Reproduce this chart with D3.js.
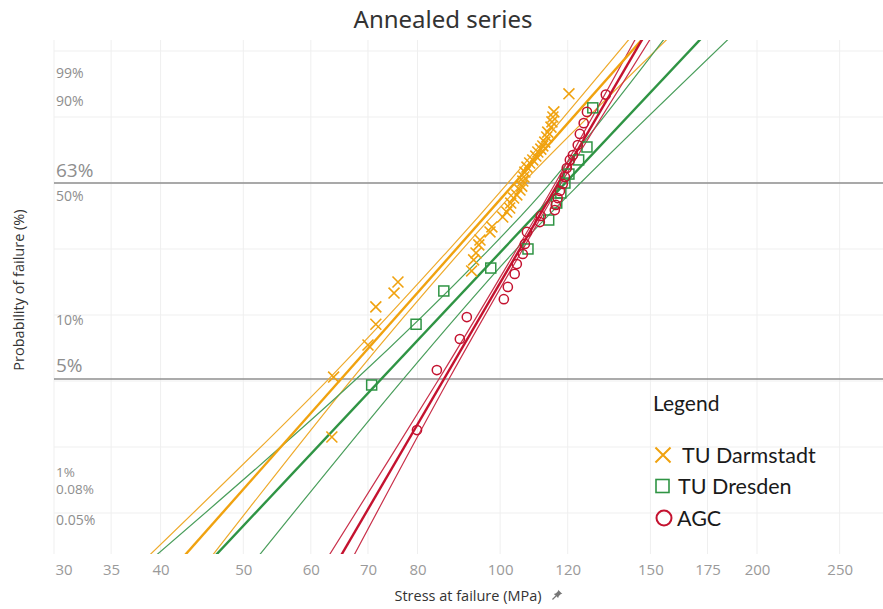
<!DOCTYPE html>
<html>
<head>
<meta charset="utf-8">
<script src="https://cdn.jsdelivr.net/npm/d3@7"></script>
<style>
  html, body { margin: 0; padding: 0; background: #fff; }
  svg { display: block; }
</style>
</head>
<body>
<svg id="chart" width="883" height="609"></svg>
<script>
// ---------------- data ----------------
const xTickValues = [30, 35, 40, 50, 60, 70, 80, 100, 120, 150, 175, 200, 250];

// annotation labels on the probability axis (text as in the original)
const probLabels = ["99%", "90%", "63%", "50%", "10%", "5%", "1%", "0.08%", "0.05%"];

// reference lines (failure probability, %)
const refLinesProb = [63.2, 5];

// TU Darmstadt (stress MPa, probability %)
const darmstadtStress = [63.5, 63.8, 70.0, 71.5, 71.5, 75.1, 75.9, 92.6, 93.1, 93.7, 94.4, 94.7, 97.3, 97.8,
  100.7, 101.8, 102.6, 102.9, 103.7, 104.6, 105.5, 106.0, 106.3, 106.6, 106.9, 107.5, 108.3, 109.2, 110.1,
  110.7, 111.6, 112.2, 112.8, 113.4, 113.7, 114.7, 115.0, 115.3, 115.6, 120.4];
const darmstadtProb = [2.11, 5.15, 8.23, 11.1, 14.2, 17.2, 20.0, 23.2, 26.8, 29.3, 32.4, 34.4, 37.9, 40.2,
  45.0, 47.5, 49.6, 52.2, 54.9, 56.6, 59.3, 61.5, 64.3, 66.6, 69.3, 72.0, 74.2, 75.8, 77.8,
  79.8, 81.2, 82.7, 84.4, 86.6, 88.5, 90.3, 92.0, 93.4, 94.7, 97.9];

// TU Dresden
const dresdenStress = [70.7, 79.7, 85.9, 97.5, 107.8, 114.0, 116.5, 117.8, 119.1, 120.4, 123.6, 126.4, 128.4];
const dresdenProb   = [4.58, 11.1, 17.7, 24.1, 30.8, 43.5, 52.2, 57.7, 63.2, 68.2, 75.8, 82.2, 95.6];

// AGC
const agcStress = [79.9, 84.3, 89.7, 91.4, 101.0, 102.1, 104.0, 104.6, 106.3, 106.9, 107.5, 111.3, 111.6,
  115.9, 116.2, 116.8, 117.5, 118.4, 119.1, 119.7, 120.7, 121.7, 123.3, 124.0, 125.3, 126.4, 133.0];
const agcProb = [2.34, 5.71, 8.98, 12.3, 15.8, 18.7, 22.3, 25.4, 28.9, 32.8, 37.9, 42.5, 45.5,
  48.5, 51.2, 54.9, 58.8, 62.7, 66.6, 71.5, 75.8, 78.3, 83.1, 87.8, 91.6, 94.7, 97.8];

// fitted Weibull lines: stress at the probability levels below
const fitLevels = [0.3, 99.99];
const darmstadtFit = [41.59, 147.7];
const dresdenFit   = [45.13, 172.9];
const agcFit       = [63.99, 147.4];

// confidence bands: stress at the probability levels below
const bandLevels = [0.3, 5, 30, 63.2, 99.99];
const darmstadtLower = [37.63, 62.95, 86.79, 102.1, 142.5];
const darmstadtUpper = [44.96, 67.03, 89.94, 106.3, 158.1];
const dresdenLower   = [38.18, 67.83, 96.65, 114.5, 156.5];
const dresdenUpper   = [50.96, 77.0, 103.96, 124.2, 186.5];
const agcLower       = [61.87, 84.78, 104.3, 116.1, 144.6];
const agcUpper       = [66.35, 87.1, 106.0, 117.9, 150.6];

const seriesNames = ["TU Darmstadt", "TU Dresden", "AGC"];

// ---------------- layout / style ----------------
const W = 883, H = 609;
const plot = { left: 54, right: 883, top: 40, bottom: 554 };
const colors = {
  orange: "#f0a20f", orangeThin: "#eeaa2c",
  green: "#2f9444", greenThin: "#4a9e5c",
  red: "#c4122f", redThin: "#c9304a"
};
// vertical positions of the probability annotations (in Weibull ordinate units)
const probLabelPos = [1.65, 1.227, 0.17, -0.212, -2.09, -2.78, -4.40, -4.66, -5.12];
const probLabelSize = [14, 14, 19, 14, 14, 19, 13.5, 13.5, 14];

const svg = d3.select("#chart");
const weib = p => Math.log(-Math.log(1 - p / 100));

const x = d3.scaleLog().domain([30, 281]).range([plot.left, plot.right]);
const y = d3.scaleLinear().domain([-5.621, 2.167]).range([plot.bottom, plot.top]);

// clip
svg.append("defs").append("clipPath").attr("id", "clip")
  .append("rect").attr("x", plot.left).attr("y", plot.top)
  .attr("width", plot.right - plot.left).attr("height", plot.bottom - plot.top);

// gridlines
const grid = svg.append("g");
grid.selectAll("line.v").data(xTickValues).join("line")
  .attr("x1", d => x(d)).attr("x2", d => x(d))
  .attr("y1", plot.top).attr("y2", plot.bottom)
  .attr("stroke", "#efefef").attr("stroke-width", 1);
grid.selectAll("line.h").data(d3.range(-5, 3)).join("line")
  .attr("x1", plot.left).attr("x2", plot.right)
  .attr("y1", d => y(d)).attr("y2", d => y(d))
  .attr("stroke", "#efefef").attr("stroke-width", 1);

// reference lines
svg.append("g").selectAll("line").data(refLinesProb).join("line")
  .attr("x1", plot.left).attr("x2", plot.right)
  .attr("y1", d => y(weib(d))).attr("y2", d => y(weib(d)))
  .attr("stroke", "#8f8f8f").attr("stroke-width", 1.5);

// x axis tick labels
const xAxis = d3.axisBottom(x).tickValues(xTickValues).tickFormat(d3.format("d")).tickSize(0).tickPadding(0);
const gx = svg.append("g").attr("transform", `translate(0,${plot.bottom + 10})`).call(xAxis);
gx.select(".domain").remove();
gx.selectAll("text")
  .attr("font-family", "'Open Sans', 'Noto Sans', sans-serif")
  .attr("font-size", 15).attr("fill", "#9a9a9a")
  .attr("dy", "0.71em");
gx.selectAll(".tick").filter(d => d === 30).select("text").attr("text-anchor", "start").attr("dx", 1);

// probability annotations
svg.append("g").selectAll("text").data(probLabels).join("text")
  .attr("x", 56)
  .attr("y", (d, i) => y(probLabelPos[i]))
  .attr("dominant-baseline", "middle")
  .attr("font-family", "'Open Sans', 'Noto Sans', sans-serif")
  .attr("font-size", (d, i) => probLabelSize[i])
  .attr("fill", "#8e8e8e")
  .text(d => d);

// lines
const lineGen = d3.line()
  .x(d => x(d[0])).y(d => y(weib(d[1])))
  .curve(d3.curveCatmullRom);

const lines = svg.append("g").attr("clip-path", "url(#clip)");
function drawLine(stress, levels, color, width) {
  const pts = stress.map((s, i) => [s, levels[i]]);
  lines.append("path").datum(pts)
    .attr("d", lineGen)
    .attr("fill", "none").attr("stroke", color).attr("stroke-width", width);
}
drawLine(darmstadtLower, bandLevels, colors.orangeThin, 1.2);
drawLine(darmstadtUpper, bandLevels, colors.orangeThin, 1.2);
drawLine(dresdenLower, bandLevels, colors.greenThin, 1.2);
drawLine(dresdenUpper, bandLevels, colors.greenThin, 1.2);
drawLine(agcLower, bandLevels, colors.redThin, 1.2);
drawLine(agcUpper, bandLevels, colors.redThin, 1.2);
drawLine(darmstadtFit, fitLevels, colors.orange, 2.4);
drawLine(dresdenFit, fitLevels, colors.green, 2.4);
drawLine(agcFit, fitLevels, colors.red, 2.4);

// points
const pts = svg.append("g");
const darm = darmstadtStress.map((s, i) => ({ s, p: darmstadtProb[i] }));
const dres = dresdenStress.map((s, i) => ({ s, p: dresdenProb[i] }));
const agc = agcStress.map((s, i) => ({ s, p: agcProb[i] }));

const cross = d3.symbol().type(d3.symbolX).size(80);
pts.selectAll("path.darm").data(darm).join("path")
  .attr("transform", d => `translate(${x(d.s)},${y(weib(d.p))})`)
  .attr("d", cross)
  .attr("fill", "none").attr("stroke", colors.orange).attr("stroke-width", 1.6);

pts.selectAll("rect.dres").data(dres).join("rect")
  .attr("x", d => x(d.s) - 5).attr("y", d => y(weib(d.p)) - 5)
  .attr("width", 10).attr("height", 10)
  .attr("fill", "none").attr("stroke", colors.green).attr("stroke-width", 1.5);

pts.selectAll("circle.agc").data(agc).join("circle")
  .attr("cx", d => x(d.s)).attr("cy", d => y(weib(d.p))).attr("r", 4.6)
  .attr("fill", "none").attr("stroke", colors.red).attr("stroke-width", 1.5);

// title
svg.append("text").attr("x", 443).attr("y", 28).attr("text-anchor", "middle")
  .attr("font-family", "'Noto Sans', 'Open Sans', sans-serif").attr("font-size", 24)
  .attr("fill", "#333").text("Annealed series");

// y axis title
svg.append("text").attr("transform", "translate(24,290) rotate(-90)")
  .attr("text-anchor", "middle")
  .attr("font-family", "'Open Sans', 'Noto Sans', sans-serif").attr("font-size", 14.5)
  .attr("fill", "#333").text("Probability of failure (%)");

// x axis title
const xt = svg.append("g");
xt.append("text").attr("x", 468).attr("y", 601).attr("text-anchor", "middle")
  .attr("font-family", "'Open Sans', 'Noto Sans', sans-serif").attr("font-size", 14.5)
  .attr("fill", "#333").text("Stress at failure (MPa)");
// pin icon
const pin = xt.append("g").attr("transform", "translate(556,596) rotate(45)");
pin.append("line").attr("x1", 0).attr("y1", 0).attr("x2", 0).attr("y2", 5).attr("stroke", "#777").attr("stroke-width", 1.2);
pin.append("path").attr("d", "M-3,0 L3,0 L2,-2 L2,-5 L3,-6 L-3,-6 L-2,-5 L-2,-2 Z").attr("fill", "#777");

// legend
const lg = svg.append("g").attr("font-family", "Lato, 'Open Sans', sans-serif").attr("fill", "#1a1a1a");
lg.append("text").attr("x", 653).attr("y", 411).attr("font-size", 21).text("Legend");
const legendY = [455, 486, 518];
const legendTextX = [682, 678, 677];
lg.selectAll("text.item").data(seriesNames).join("text")
  .attr("x", (d, i) => legendTextX[i]).attr("y", (d, i) => legendY[i] + 7.5)
  .attr("font-size", 21.5).text(d => d);
lg.append("path").attr("transform", `translate(663,${legendY[0]})`)
  .attr("d", d3.symbol().type(d3.symbolX).size(150)).attr("fill", "none")
  .attr("stroke", colors.orange).attr("stroke-width", 2);
lg.append("rect").attr("x", 656).attr("y", legendY[1] - 6.5).attr("width", 13).attr("height", 13)
  .attr("fill", "none").attr("stroke", colors.green).attr("stroke-width", 1.6);
lg.append("circle").attr("cx", 664).attr("cy", legendY[2]).attr("r", 7.5)
  .attr("fill", "none").attr("stroke", colors.red).attr("stroke-width", 2);
</script>
</body>
</html>
